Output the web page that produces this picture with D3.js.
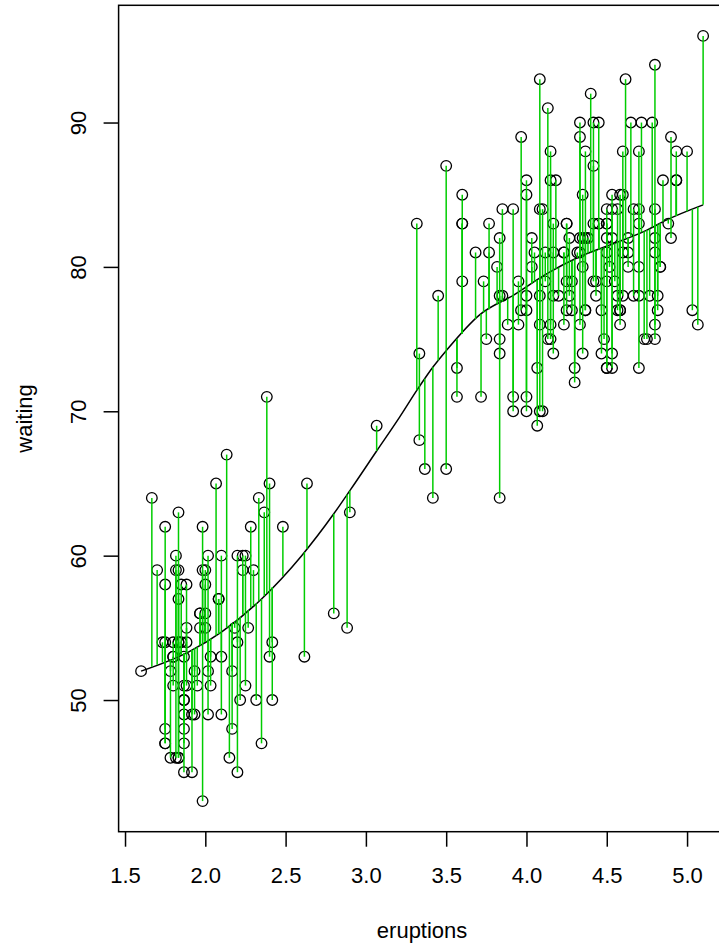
<!DOCTYPE html>
<html>
<head>
<meta charset="utf-8">
<script src="https://cdn.jsdelivr.net/npm/d3@7"></script>
<style>
  body { margin: 0; background: #fff; }
  svg text { font-family: "Liberation Sans", Arial, Helvetica, sans-serif; fill: #000; }
</style>
</head>
<body>
<div id="chart"></div>
<script>
// old faithful: eruption length vs waiting time
var eruptions = [3.600,1.800,3.333,2.283,4.533,2.883,4.700,3.600,1.950,4.350,1.833,3.917,4.200,1.750,4.700,2.167,1.750,4.800,1.600,4.250,
  1.800,1.750,3.450,3.067,4.533,3.600,1.967,4.083,3.850,4.433,4.300,4.467,3.367,4.033,3.833,2.017,1.867,4.833,1.833,4.783,
  4.350,1.883,4.567,1.750,4.533,3.317,3.833,2.100,4.633,2.000,4.800,4.716,1.833,4.833,1.733,4.883,3.717,1.667,4.567,4.317,
  2.233,4.500,1.750,4.800,1.817,4.400,4.167,4.700,2.067,4.700,4.033,1.967,4.500,4.000,1.983,5.067,2.017,4.567,3.883,3.600,
  4.133,4.333,4.100,2.633,4.067,4.933,3.950,4.517,2.167,4.000,2.200,4.333,1.867,4.817,1.833,4.300,4.667,3.750,1.867,4.900,
  2.483,4.367,2.100,4.500,4.050,1.867,4.700,1.783,4.850,3.683,4.733,2.300,4.900,4.417,1.700,4.633,2.317,4.600,1.817,4.417,
  2.617,4.067,4.250,1.967,4.600,3.767,1.917,4.500,2.267,4.650,1.867,4.167,2.800,4.333,1.833,4.383,1.883,4.933,2.033,3.733,
  4.233,2.233,4.533,4.817,4.333,1.983,4.633,2.017,5.100,1.800,5.033,4.000,2.400,4.600,3.567,4.000,4.500,4.083,1.800,3.967,
  2.200,4.150,2.000,3.833,3.500,4.583,2.367,5.000,1.933,4.617,1.917,2.083,4.583,3.333,4.167,4.333,4.500,2.417,4.000,4.167,
  1.883,4.583,4.250,3.767,2.033,4.433,4.083,1.833,4.417,2.183,4.800,1.833,4.800,4.100,3.966,4.233,3.500,4.366,2.250,4.667,
  2.100,4.350,4.133,1.867,4.600,1.783,4.367,3.850,1.933,4.500,2.383,4.700,1.867,3.833,3.417,4.233,2.400,4.800,2.000,4.150,
  1.867,4.267,1.750,4.483,4.000,4.117,4.083,4.267,3.917,4.550,4.083,2.417,4.183,2.217,4.450,1.883,1.850,4.283,3.950,2.333,
  4.150,2.350,4.933,2.900,4.583,3.833,2.083,4.367,2.133,4.350,2.200,4.450,3.567,4.500,4.150,3.817,3.917,4.450,2.000,4.283,
  4.767,4.533,1.850,4.250,1.983,2.250,4.750,4.117,2.150,4.417,1.817,4.467];
var waiting = [79,54,74,62,85,55,88,85,51,85,54,84,78,47,83,52,62,84,52,79,
  51,47,78,69,74,83,55,76,78,79,73,77,66,80,74,52,48,80,59,90,
  80,58,84,58,73,83,64,53,82,59,75,90,54,80,54,83,71,64,77,81,
  59,84,48,82,60,92,78,78,65,73,82,56,79,71,62,76,60,78,76,83,
  75,82,70,65,73,88,76,80,48,86,60,90,50,78,63,72,84,75,51,82,
  62,88,49,83,81,47,84,52,86,81,75,59,89,79,59,81,50,85,59,87,
  53,69,77,56,88,81,45,82,55,90,45,83,56,89,46,82,51,86,53,79,
  81,60,82,77,76,59,80,49,96,53,77,77,65,81,71,70,81,93,53,89,
  45,86,58,78,66,76,63,88,52,93,49,57,77,68,81,81,73,50,85,74,
  55,77,83,83,51,78,84,46,83,55,81,57,76,84,77,81,87,77,51,78,
  60,82,91,53,78,46,77,84,49,83,71,80,49,75,64,76,53,94,55,76,
  50,82,54,75,78,79,78,78,70,79,70,54,86,50,90,54,54,77,79,64,
  75,47,86,63,85,82,57,82,67,74,54,83,73,73,88,80,71,83,56,79,
  78,84,58,83,43,60,75,81,46,90,46,74];

// smooth fit
var fitX = [1.60, 1.90, 2.10, 2.35, 2.60, 2.80, 2.90, 3.07, 3.21, 3.32, 3.42, 3.50, 3.71, 3.92, 4.13, 4.33, 4.54, 4.75, 4.87, 5.10];
var fitY = [52.0, 53.35, 54.7, 57.0, 60.0, 62.9, 64.5, 67.3, 69.6, 71.5, 73.1, 74.2, 76.7, 78.05, 79.55, 80.7, 81.6, 82.55, 83.24, 84.3];

var xTicks = [1.5, 2.0, 2.5, 3.0, 3.5, 4.0, 4.5, 5.0];
var yTicks = [50, 60, 70, 80, 90];

(function() {
  var width = 719, height = 947,
      pLeft = 118.6, pRight = 725.6, pTop = 5.3, pBottom = 831.7,
      fontSize = 22;

  var svg = d3.select('#chart').append('svg')
    .attr('width', width)
    .attr('height', height)
    .style('display', 'block');

  svg.append('rect').attr('width', width).attr('height', height).attr('fill', '#fff');

  var x = d3.scaleLinear().domain([1.46, 5.24]).range([pLeft, pRight]),
      y = d3.scaleLinear().domain([40.88, 98.12]).range([pBottom, pTop]),
      fit = d3.scaleLinear().domain(fitX).range(fitY).clamp(true);

  var pts = eruptions.map(function(e, i) { return {e: e, w: waiting[i]}; });

  // points
  svg.append('g').selectAll('circle')
    .data(pts)
    .enter().append('circle')
    .attr('cx', function(d) { return x(d.e); })
    .attr('cy', function(d) { return y(d.w); })
    .attr('r', 5.3)
    .attr('fill', 'none')
    .attr('stroke', '#000')
    .attr('stroke-width', 1.3);

  // fitted curve
  var line = d3.line()
    .x(function(d) { return x(d[0]); })
    .y(function(d) { return y(d[1]); })
    .curve(d3.curveMonotoneX);

  svg.append('path')
    .datum(fitX.map(function(v, i) { return [v, fitY[i]]; }))
    .attr('d', line)
    .attr('fill', 'none')
    .attr('stroke', '#000')
    .attr('stroke-width', 1.5);

  // residuals
  svg.append('g').selectAll('line')
    .data(pts)
    .enter().append('line')
    .attr('x1', function(d) { return x(d.e); })
    .attr('x2', function(d) { return x(d.e); })
    .attr('y1', function(d) { return y(d.w); })
    .attr('y2', function(d) { return y(fit(d.e)); })
    .attr('stroke', '#00cd00')
    .attr('stroke-width', 1.5);

  // box
  svg.append('rect')
    .attr('x', pLeft).attr('y', pTop)
    .attr('width', pRight - pLeft).attr('height', pBottom - pTop)
    .attr('fill', 'none')
    .attr('stroke', '#000')
    .attr('stroke-width', 1.5);

  // axes
  var xAxis = svg.append('g')
    .attr('transform', 'translate(0,' + pBottom + ')')
    .call(d3.axisBottom(x).tickValues(xTicks).tickSize(15).tickSizeOuter(0)
      .tickFormat(d3.format('.1f')));

  xAxis.select('.domain').remove();
  xAxis.selectAll('line').attr('stroke', '#000').attr('stroke-width', 1.5);
  xAxis.selectAll('text')
    .attr('y', 883 - pBottom)
    .attr('dy', 0)
    .style('font-size', fontSize + 'px');

  var yAxis = svg.append('g')
    .attr('transform', 'translate(' + pLeft + ',0)')
    .call(d3.axisLeft(y).tickValues(yTicks).tickSize(15).tickSizeOuter(0));

  yAxis.select('.domain').remove();
  yAxis.selectAll('line').attr('stroke', '#000').attr('stroke-width', 1.5);
  yAxis.selectAll('text')
    .attr('transform', 'rotate(-90)')
    .attr('x', 0)
    .attr('y', -(pLeft - 86))
    .attr('dy', 0)
    .attr('text-anchor', 'middle')
    .style('font-size', fontSize + 'px');

  // titles
  svg.append('text')
    .attr('x', (pLeft + pRight) / 2)
    .attr('y', 938)
    .attr('text-anchor', 'middle')
    .style('font-size', fontSize + 'px')
    .text('eruptions');

  svg.append('text')
    .attr('transform', 'translate(32,' + (pTop + pBottom) / 2 + ') rotate(-90)')
    .attr('text-anchor', 'middle')
    .style('font-size', fontSize + 'px')
    .text('waiting');
})();
</script>
</body>
</html>
